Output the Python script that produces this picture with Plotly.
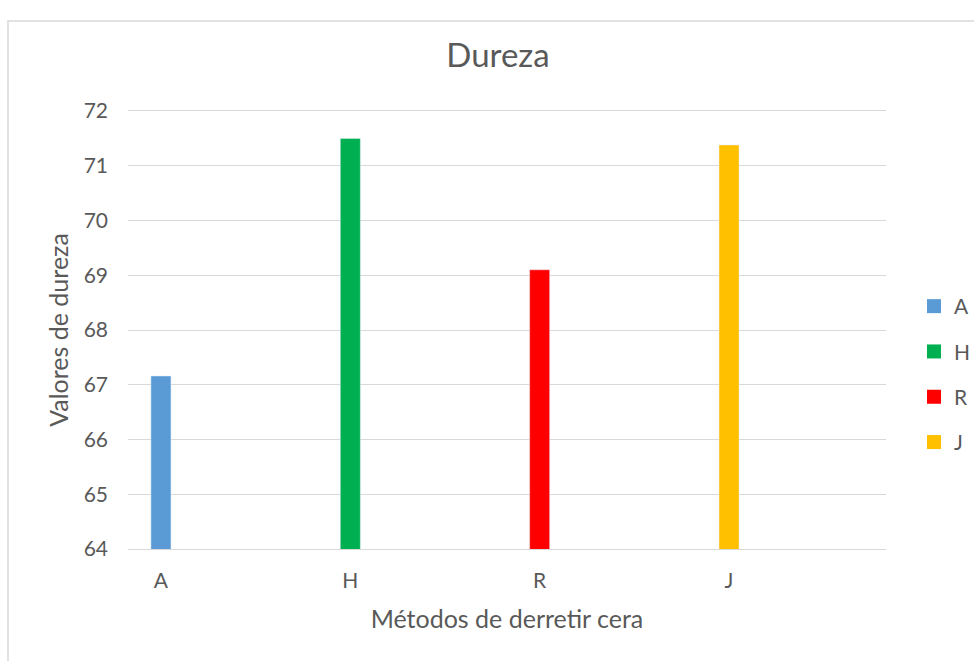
import plotly.graph_objects as go

categories = ["A", "H", "R", "J"]
values = [67.16, 71.5, 69.1, 71.38]
colors = ["#5B9BD5", "#00B050", "#FF0000", "#FFC000"]
y_ticks = [64, 65, 66, 67, 68, 69, 70, 71, 72]

FONT = "Lato"
TXT = "#595959"
GRID = "#D9D9D9"
W, H = 974, 661
L, R, T, B = 128, 88, 111, 112

fig = go.Figure()
for c, v, col in zip(categories, values, colors):
    fig.add_trace(go.Bar(
        x=[c], y=[v], name=c, marker_color=col, width=0.106,
        showlegend=False,
    ))
for c, col in zip(categories, colors):
    fig.add_trace(go.Scatter(
        x=[None], y=[None], mode="markers", name=c, legendgroup=c,
        marker=dict(symbol="square", size=14, color=col), showlegend=True,
    ))

pw = W - L - R
ph = H - T - B

fig.update_layout(
    width=W, height=H,
    margin=dict(l=L, r=R, t=T, b=B, autoexpand=False),
    paper_bgcolor="white", plot_bgcolor="white",
    barmode="overlay",
    font=dict(family=FONT, color=TXT),
    title=dict(text="Dureza", x=498 / W, xref="container", xanchor="center",
               y=1 - 55 / H, yref="container", yanchor="middle",
               font=dict(size=33, color=TXT, family=FONT)),
    xaxis=dict(
        type="category", categoryorder="array", categoryarray=categories,
        range=[-0.174, 3.829], showgrid=False, zeroline=False,
        showline=True, mirror=True, linecolor=GRID, linewidth=1.3,
        ticks="", ticklabelstandoff=13,
        tickfont=dict(size=21, color=TXT),
        title=dict(text="Métodos de derretir cera", font=dict(size=25, color=TXT), standoff=19),
    ),
    yaxis=dict(
        range=[64, 72], tickvals=y_ticks, showgrid=True, gridcolor=GRID,
        gridwidth=1.3, zeroline=False, showline=False, ticks="",
        ticklabelstandoff=19,
        tickfont=dict(size=21, color=TXT),
        title=dict(text="Valores de dureza", font=dict(size=25, color=TXT), standoff=7),
    ),
    legend=dict(
        x=(914 - L) / pw, xanchor="left", y=(H - B - 374.5) / ph, yanchor="middle",
        font=dict(size=21, color=TXT), tracegroupgap=15, traceorder="grouped",
        bgcolor="rgba(0,0,0,0)", itemwidth=30,
    ),
    showlegend=True,
)

fig.add_shape(type="rect", xref="paper", yref="paper",
              x0=(8 - L) / pw, x1=2.0, y0=-1.0, y1=(H - B - 21) / ph,
              line=dict(color=GRID, width=1.5), fillcolor="rgba(0,0,0,0)", layer="below")

fig.write_html("out.html")
